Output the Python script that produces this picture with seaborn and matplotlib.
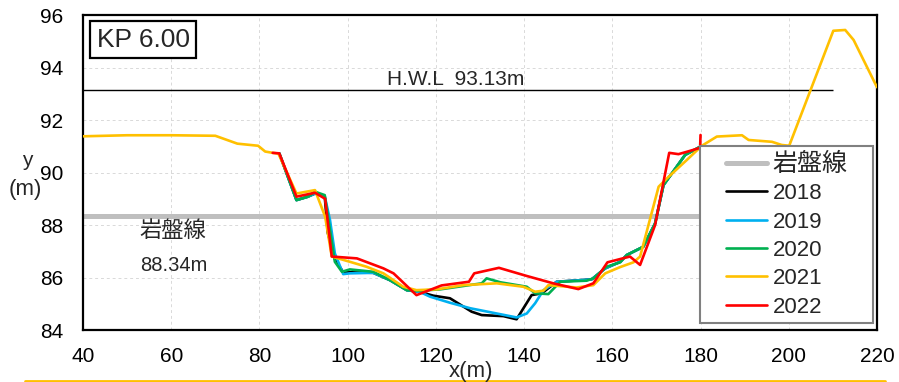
import matplotlib
matplotlib.use("Agg")
import matplotlib.pyplot as plt
from matplotlib.lines import Line2D
from matplotlib.legend_handler import HandlerLine2D
import seaborn as sns
import pandas as pd

# ---------------- data ----------------
years = ["2018", "2019", "2020", "2021", "2022"]
colors = ["#000000", "#00B0F0", "#00B050", "#FFC000", "#FF0000"]

x_2018 = [84.5, 88.4, 91, 92.6, 94.8, 95.5, 97.1, 99, 100.5, 105.8, 109.6, 113.4, 116.4, 119.4, 123.2, 128.1, 130.4,
          135.3, 138.3, 141.7, 144, 147.4, 151.2, 155.3, 158.4, 161.8, 163.3, 167, 169.7, 171.6, 176.5, 179.9]
y_2018 = [90.73, 88.95, 89.08, 89.2, 89.1, 87.7, 86.7, 86.2, 86.2, 86.18, 85.9, 85.52, 85.45, 85.31, 85.21, 84.7, 84.57,
          84.53, 84.41, 85.33, 85.4, 85.84, 85.88, 85.93, 86.35, 86.6, 86.86, 87.17, 88.06, 89.52, 90.67, 90.98]

x_2019 = [84.5, 88.4, 91, 92.6, 94.8, 96, 97.1, 99, 100.5, 105.8, 109.6, 113.4, 116.4, 118.7, 123.2, 127.8, 138.3,
          140.6, 142.5, 144.4, 147.4, 151.2, 155.3, 158.4, 161.8, 163.3, 167, 169.7, 171.6, 176.5, 179.9]
y_2019 = [90.73, 88.95, 89.08, 89.2, 89.1, 88.19, 86.92, 86.13, 86.16, 86.18, 85.9, 85.52, 85.45, 85.27, 85.04, 84.83,
          84.48, 84.63, 85.02, 85.52, 85.84, 85.88, 85.93, 86.35, 86.6, 86.86, 87.17, 88.06, 89.52, 90.67, 90.98]

x_2020 = [84.5, 88.4, 91, 92.6, 94.8, 96, 97.1, 98.7, 100.5, 105.8, 109.6, 113.4, 116.4, 121, 130.4, 131.5, 134.6,
          140.6, 142.5, 145.5, 148.2, 154.2, 155.7, 158.7, 161.8, 163.3, 167, 169.7, 171.6, 176.5, 179.9]
y_2020 = [90.73, 88.95, 89.08, 89.27, 89.14, 87.81, 86.6, 86.22, 86.31, 86.22, 85.9, 85.52, 85.5, 85.55, 85.78, 85.97,
          85.82, 85.65, 85.4, 85.37, 85.84, 85.88, 85.97, 86.41, 86.58, 86.86, 87.17, 88.06, 89.52, 90.67, 90.98]

x_2021 = [40, 50, 60, 70, 75, 79.7, 81.3, 83, 84.3, 88.4, 92.6, 94.9, 96.4, 100.5, 104.3, 108.1, 112.6, 115.6, 120.2,
          126.2, 133.8, 139.8, 142.5, 144.4, 145.5, 151.9, 155.7, 158.4, 161.8, 164.8, 166.3, 170.5, 172.4, 176.9,
          180.3, 183.7, 189.4, 190.9, 196.2, 198.4, 200.1, 210.1, 212.8, 214.7, 220]
y_2021 = [91.38, 91.42, 91.42, 91.4, 91.1, 91.02, 90.8, 90.75, 90.72, 89.2, 89.33, 88.32, 86.8, 86.6, 86.41, 86.16,
          85.65, 85.52, 85.55, 85.71, 85.78, 85.65, 85.46, 85.5, 85.71, 85.62, 85.71, 86.16, 86.4, 86.58, 86.8,
          89.46, 89.78, 90.48, 91.02, 91.37, 91.42, 91.24, 91.17, 91.05, 91.02, 95.4, 95.43, 95.05, 93.25]

x_2022 = [83, 84.5, 88.4, 92.6, 94.9, 96.4, 102.1, 108.1, 110.4, 115.6, 121.3, 127.5, 128.7, 134.3, 140.6, 146.6,
          152.3, 155.7, 158.9, 164, 166.3, 169.7, 170.8, 172.9, 175, 176.9, 179.9, 180]
y_2022 = [90.75, 90.73, 89.08, 89.23, 89.0, 86.8, 86.73, 86.35, 86.16, 85.33, 85.7, 85.84, 86.16, 86.37, 86.06, 85.78,
          85.56, 85.78, 86.58, 86.8, 86.48, 88.0, 88.95, 90.75, 90.7, 90.79, 90.94, 91.43]

series_x = [x_2018, x_2019, x_2020, x_2021, x_2022]
series_y = [y_2018, y_2019, y_2020, y_2021, y_2022]

bedrock_level = 88.34
bedrock_x = [40, 180]
bedrock_label = "岩盤線"
hwl_level = 93.13
hwl_x = [40, 210]
kp_label = "KP 6.00"

x_ticks = [40, 60, 80, 100, 120, 140, 160, 180, 200, 220]
y_ticks = [84, 86, 88, 90, 92, 94, 96]

# ---------------- style ----------------
sns.set_style("white")
plt.rcParams["font.family"] = ["Liberation Sans", "Noto Sans CJK JP", "DejaVu Sans"]

fig = plt.figure(figsize=(8.99, 3.82), dpi=100)
ax = fig.add_axes([0.0923, 0.136, 0.8832, 0.8247])

ax.hlines(bedrock_level, bedrock_x[0], bedrock_x[1], color="#BFBFBF", lw=3.6, zorder=2)
ax.hlines(hwl_level, hwl_x[0], hwl_x[1], color="black", lw=1.0, zorder=2)

for xs, ys, c in zip(series_x, series_y, colors):
    df = pd.DataFrame({"x": xs, "y": ys})
    sns.lineplot(data=df, x="x", y="y", sort=False, estimator=None, color=c,
                 lw=1.9, ax=ax, zorder=3)

ax.set_xlim(40, 220)
ax.set_ylim(84, 96)
ax.set_xticks(x_ticks)
ax.set_yticks(y_ticks)
ax.tick_params(axis="both", direction="in", length=5, width=1, labelsize=15, colors="black")
ax.tick_params(axis="x", pad=12)
ax.tick_params(axis="y", pad=14)
ax.grid(True, color="#D9D9D9", ls=(0, (3, 3)), lw=0.7)
for s in ax.spines.values():
    s.set_color("black")
    s.set_linewidth(1.6)
ax.set_xlabel("")
ax.set_ylabel("")

ax.text(124.4, 93.55, "H.W.L  93.13m", fontsize=15, ha="center", va="center")
ax.text(52.9, 87.77, bedrock_label, fontsize=16, ha="left", va="center")
ax.text(52.9, 86.44, "88.34m", fontsize=14.5, ha="left", va="center")
ax.text(0.0756, 0.922, kp_label, transform=ax.transAxes, fontsize=19, ha="center", va="center",
        bbox=dict(boxstyle="square,pad=0.25", fc="white", ec="black", lw=1.6), zorder=5)

fig.text(27 / 899, 1 - 160 / 382, "y", fontsize=15, ha="center", va="center")
fig.text(25 / 899, 1 - 189 / 382, "(m)", fontsize=16, ha="center", va="center")
fig.text(471 / 899, 1 - 372 / 382, "x(m)", fontsize=16, ha="center", va="center")


class PadHandler(HandlerLine2D):
    def __init__(self, lpad, **kw):
        super().__init__(**kw)
        self.lpad = lpad

    def create_artists(self, legend, orig_handle, xdescent, ydescent, width, height, fontsize, trans):
        return super().create_artists(legend, orig_handle, xdescent - self.lpad, ydescent,
                                      width - self.lpad, height, fontsize, trans)


handles = [Line2D([], [], color="#BFBFBF", lw=3.6)] + [Line2D([], [], color=c, lw=1.9) for c in colors]
labels = [bedrock_label] + years
hmap = {h: PadHandler(14.5) for h in handles}
leg = ax.legend(handles, labels, handler_map=hmap, loc="lower left",
                bbox_to_anchor=(0.777, 0.022, 0.218, 0.562), mode="expand", fontsize=16,
                frameon=True, fancybox=False, edgecolor="#808080", framealpha=1,
                handlelength=2.75, handletextpad=0.27, labelspacing=0.33, borderpad=0.25,
                borderaxespad=0)
leg.get_frame().set_linewidth(1.5)
leg.get_texts()[0].set_fontsize(18)
leg.set_zorder(6)

fig.add_artist(Line2D([25 / 899, 885 / 899], [1.5 / 382, 1.5 / 382], transform=fig.transFigure,
                      color="#FFC000", lw=2))

fig.savefig("out.png", dpi=100)
